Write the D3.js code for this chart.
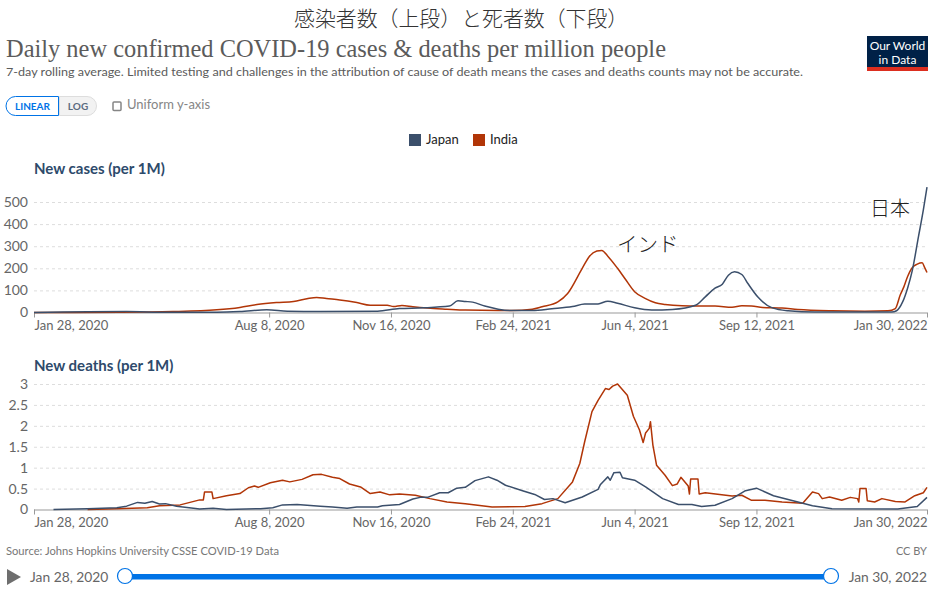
<!DOCTYPE html>
<html lang="ja">
<head>
<meta charset="utf-8">
<script src="https://cdn.jsdelivr.net/npm/d3@7"></script>
<style>
html,body{margin:0;padding:0;background:#fff;}
svg{display:block;font-family:Lato,sans-serif;}
</style>
</head>
<body>
<svg id="c" width="931" height="590"></svg>
<script>
const startDate = "2020-01-28";
const tickLabels = ["Jan 28, 2020","Aug 8, 2020","Nov 16, 2020","Feb 24, 2021","Jun 4, 2021","Sep 12, 2021","Jan 30, 2022"];
const caseTicks = [0,100,200,300,400,500];
const deathTicks = [0,0.5,1,1.5,2,2.5,3];

const indiaCaseDays = [0,71,114,150,169,183,199,213,224,232,240,251,265,276,290,295,302,311,323,339,354,381,392,409,417,430,438,450,456,462,466,471,479,485,493,502,510,518,532,545,559,573,581,589,598,614,627,655,682,701,707,711,714,717,721,725,729,731,733];
const indiaCases = [0,1,4,12,23,36,45,50,62,68,63,57,45,33,33,27,32,26,20,15,11,9,9,15,26,48,86,200,255,278,281,255,200,154,94,63,44,36,30,29,29,24,30,29,23,20,14,8,6,8,18,79,116,162,204,219,225,204,181];

const japanCaseDays = [0,76,109,150,169,191,208,235,282,300,319,341,348,354,360,370,381,392,409,425,442,452,463,471,479,493,507,524,543,551,559,565,570,575,581,586,594,606,619,641,704,708,713,717,721,726,730,733];
const japanCases = [0,4,1,1,4,12,6,4,6,18,21,29,53,50,47,29,15,9,9,17,27,38,39,51,42,21,11,14,33,71,110,128,169,184,172,131,71,21,8,2,2,8,48,109,192,343,464,567];

const indiaDeathDays = [44,68,93,103,120,136,139,140,146,147,158,169,176,181,184,194,204,210,220,229,236,245,251,259,268,276,284,292,300,313,325,339,354,376,403,417,430,442,448,452,458,463,469,472,475,479,487,492,497,500,502,505,506,508,511,518,524,528,531,537,538,539,545,546,551,573,581,589,600,614,631,639,644,647,653,663,670,676,677,678,683,684,690,696,707,715,723,730,733];
const indiaDeaths = [0,0.02,0.04,0.09,0.11,0.23,0.23,0.42,0.42,0.26,0.33,0.38,0.52,0.56,0.53,0.64,0.70,0.66,0.72,0.83,0.84,0.77,0.74,0.61,0.54,0.38,0.42,0.35,0.37,0.34,0.26,0.18,0.14,0.06,0.07,0.14,0.26,0.66,1.10,1.62,2.34,2.61,2.89,2.87,2.95,3.0,2.73,2.23,1.90,1.60,1.83,1.94,2.10,1.54,1.06,0.82,0.57,0.61,0.77,0.56,0.37,0.73,0.73,0.37,0.40,0.32,0.34,0.22,0.22,0.18,0.15,0.42,0.38,0.26,0.30,0.22,0.29,0.26,0.18,0.50,0.50,0.21,0.18,0.26,0.19,0.18,0.33,0.40,0.53];

const japanDeathDays = [16,44,68,76,85,91,97,103,108,117,136,147,158,186,196,204,216,235,245,257,265,282,286,300,311,317,323,333,340,347,354,362,373,380,387,401,411,419,426,436,450,463,465,471,473,476,481,483,493,502,516,529,540,548,559,573,584,593,607,623,639,655,709,725,733];
const japanDeaths = [0,0.02,0.04,0.08,0.17,0.15,0.19,0.13,0.14,0.08,0.01,0.03,0,0.02,0.04,0.11,0.12,0.08,0.06,0.03,0.06,0.06,0.09,0.12,0.25,0.29,0.29,0.40,0.40,0.51,0.53,0.69,0.78,0.70,0.58,0.45,0.36,0.24,0.26,0.16,0.30,0.48,0.60,0.78,0.70,0.88,0.89,0.76,0.70,0.54,0.26,0.12,0.12,0.07,0.10,0.26,0.45,0.51,0.33,0.21,0.09,0.02,0.01,0.07,0.29];

const colorJapan = "#3b4f6b", colorIndia = "#b13507";
const svg = d3.select("#c");
const parseTick = d3.utcParse("%b %d, %Y");
const t0 = d3.isoParse(startDate);
const toDate = d => d3.utcDay.offset(t0, d);
const tickDates = tickLabels.map(parseTick);

const x = d3.scaleUtc().domain([tickDates[0], tickDates[tickDates.length-1]]).range([34,927]);

function text(xp,y,s,o={}){
  const t = svg.append("text").attr("x",xp).attr("y",y).text(s)
    .attr("font-size",o.size||12).attr("fill",o.fill||"#555")
    .attr("font-weight",o.weight||400).attr("text-anchor",o.anchor||"start");
  if(o.family) t.attr("font-family",o.family);
  if(o.len) t.attr("textLength",o.len).attr("lengthAdjust","spacingAndGlyphs");
  return t;
}

// headings
text(294,26,"感染者数（上段）と死者数（下段）",{size:20.9,fill:"#333",family:"'Noto Sans CJK JP'",weight:300});
text(6,57,"Daily new confirmed COVID-19 cases & deaths per million people",{size:25,fill:"#5b5b5b",family:"'Liberation Serif',serif",len:660});
text(6,76,"7-day rolling average. Limited testing and challenges in the attribution of cause of death means the cases and deaths counts may not be accurate.",{size:12,fill:"#5b5b5b",len:797});

// logo
svg.append("rect").attr("x",867).attr("y",36).attr("width",61).attr("height",35).attr("fill","#002147");
svg.append("rect").attr("x",867).attr("y",67).attr("width",61).attr("height",4).attr("fill","#dc2e1f");
text(897.5,49.5,"Our World",{size:12,fill:"#fff",anchor:"middle"});
text(897.5,63.5,"in Data",{size:12,fill:"#fff",anchor:"middle"});

// controls
svg.append("path").attr("d","M59.5 96.5H87a9.5 9.5 0 0 1 0 19H59.5Z").attr("fill","#f2f2f2").attr("stroke","#ddd");
svg.append("path").attr("d","M58.5 96.5H15.5a9.5 9.5 0 0 0 0 19H58.5Z").attr("fill","#fff").attr("stroke","#0073e6");
text(32.5,109.5,"LINEAR",{size:10,fill:"#0073e6",weight:700,anchor:"middle"});
text(78,109.5,"LOG",{size:10,fill:"#5b6b80",weight:700,anchor:"middle"});
svg.append("rect").attr("x",113).attr("y",102).attr("width",8).attr("height",8.5).attr("rx",1).attr("fill","#fff").attr("stroke","#858585").attr("stroke-width",1.5);
text(127,109,"Uniform y-axis",{size:13,fill:"#858585"});

// legend
[[409,"Japan",colorJapan],[473,"India",colorIndia]].forEach(([xp,s,c])=>{
  svg.append("rect").attr("x",xp).attr("y",134).attr("width",12).attr("height",12).attr("fill",c);
  text(xp+17,144,s,{size:13,fill:"#222"});
});

function panel(title,titleY,domain,top,bottom,ticks,series,curve){
  const y = d3.scaleLinear().domain(domain).range([bottom,top]);
  text(34,titleY,title,{size:15,weight:700,fill:"#2d4a6b"});
  const gy = svg.append("g").attr("transform","translate(34,0)")
    .call(d3.axisLeft(y).tickValues(ticks).tickSize(-893).tickPadding(6).tickFormat(d3.format("~g")));
  gy.select(".domain").remove();
  gy.selectAll("line").attr("stroke","#ddd").attr("stroke-dasharray","3,3");
  gy.selectAll("text").attr("font-size",14).attr("font-family","Lato").attr("fill","#666");
  gy.selectAll(".tick").filter(d=>d===0).select("line").remove();
  const gx = svg.append("g").attr("transform",`translate(0,${bottom})`)
    .call(d3.axisBottom(x).tickValues(tickDates).tickSize(5).tickPadding(3).tickFormat((d,i)=>tickLabels[i]));
  gx.select(".domain").attr("stroke","#999").attr("d",`M34,0.5H927`);
  gx.selectAll("line").attr("stroke","#999");
  gx.selectAll("text").attr("font-size",13).attr("font-family","Lato").attr("fill","#666");
  gx.selectAll("text").filter((d,i)=>i===0).attr("text-anchor","start").attr("x",0);
  gx.selectAll("text").filter((d,i)=>i===tickLabels.length-1).attr("text-anchor","end").attr("x",0);
  const line = d3.line().x(d=>x(toDate(d[0]))).y(d=>y(d[1])).curve(curve);
  series.forEach(([days,vals,c])=>{
    svg.append("path").datum(days.map((d,i)=>[d,vals[i]]))
      .attr("fill","none").attr("stroke",c).attr("stroke-width",1.5).attr("stroke-linejoin","round")
      .attr("d",line);
  });
}

panel("New cases (per 1M)",174,[0,567],187.2,312.5,caseTicks,[
  [indiaCaseDays,indiaCases,colorIndia],[japanCaseDays,japanCases,colorJapan]],d3.curveMonotoneX);
panel("New deaths (per 1M)",371,[0,3],384,509.5,deathTicks,[
  [indiaDeathDays,indiaDeaths,colorIndia],[japanDeathDays,japanDeaths,colorJapan]],d3.curveLinear);

// annotations
text(617,252,"インド",{size:20.5,fill:"#222",family:"'Noto Sans CJK JP'",weight:300});
text(870,216,"日本",{size:20,fill:"#222",family:"'Noto Sans CJK JP'",weight:300});

// footer
text(6,555,"Source: Johns Hopkins University CSSE COVID-19 Data",{size:11,fill:"#777",len:273});
text(927,555,"CC BY",{size:11,fill:"#777",anchor:"end"});

// timeline
svg.append("path").attr("d",d3.line()([[7,569],[21,577],[7,585]])+"Z").attr("fill","#6e6e6e");
text(30,582,tickLabels[0],{size:13.8,fill:"#666"});
text(927,582,tickLabels[tickLabels.length-1],{size:13.8,fill:"#666",anchor:"end"});
svg.append("rect").attr("x",125).attr("y",574).attr("width",706).attr("height",5.5).attr("fill","#0073e6");
[125,831].forEach(cx=>svg.append("circle").attr("cx",cx).attr("cy",576).attr("r",7.5).attr("fill","#fff").attr("stroke","#0073e6").attr("stroke-width",1.2));
</script>
</body>
</html>
